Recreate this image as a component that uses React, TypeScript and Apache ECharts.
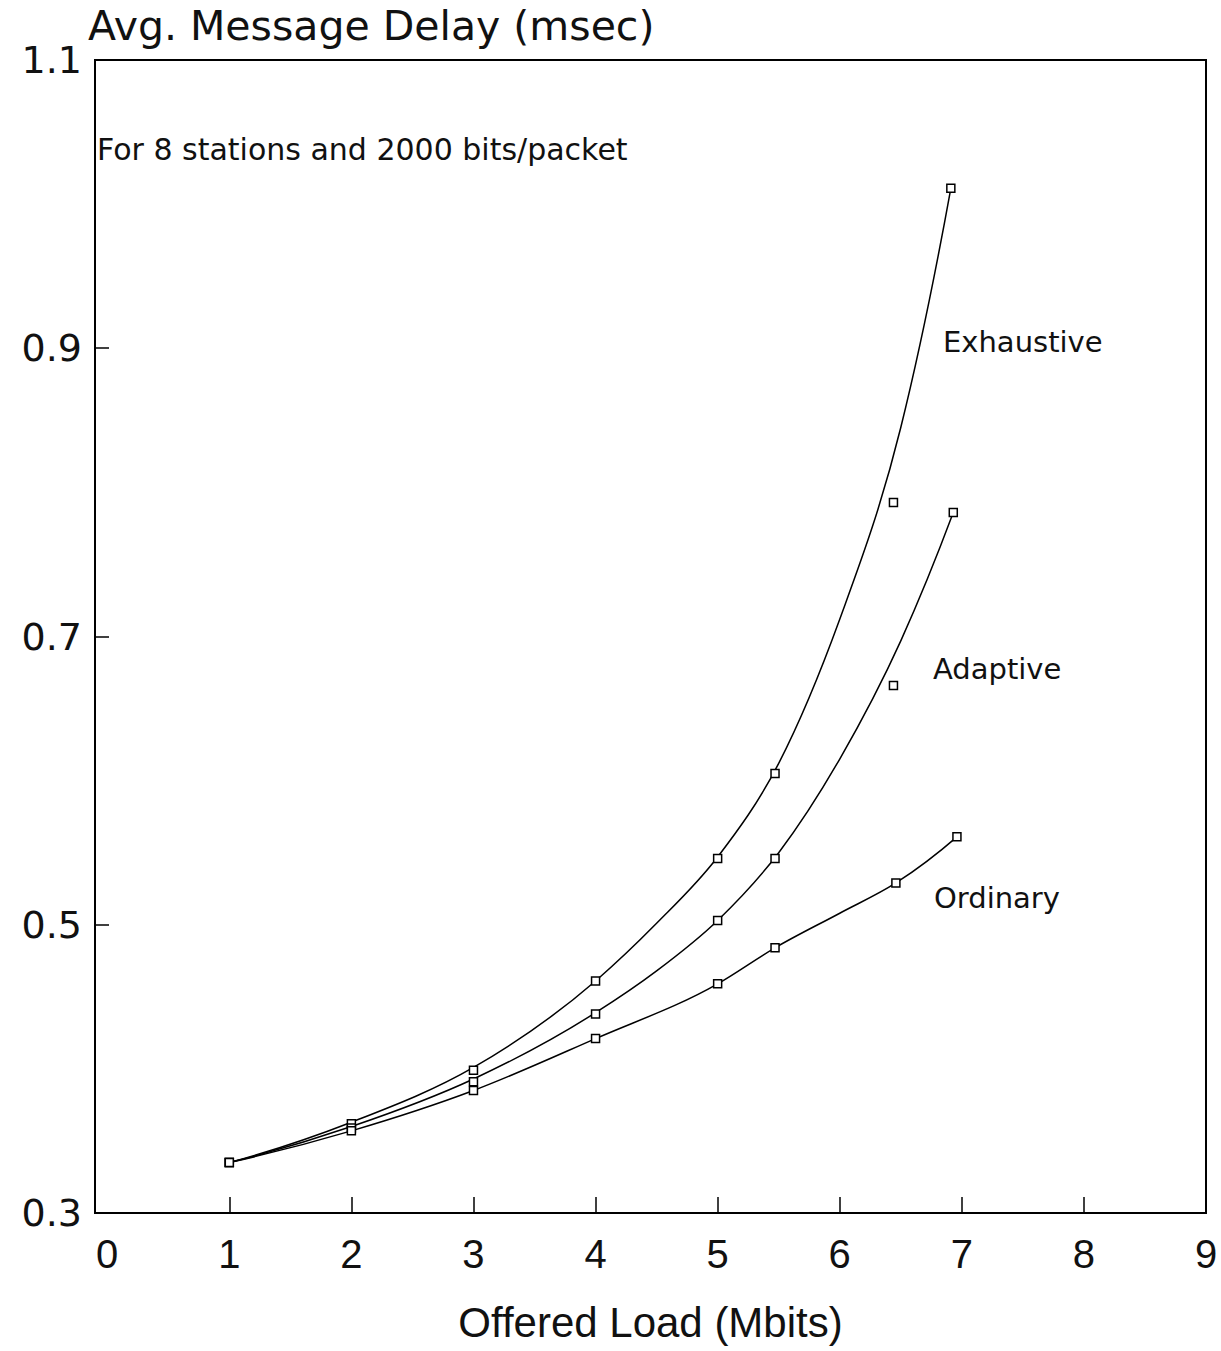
import React, { useEffect, useRef } from "react";
import * as echarts from "echarts";

// measured points (square markers)
const exhaustiveX = [1, 2, 3, 4, 5, 5.47, 6.44, 6.91];
const exhaustiveY = [0.335, 0.362, 0.399, 0.461, 0.546, 0.605, 0.793, 1.011];
const adaptiveX = [1, 2, 3, 4, 5, 5.47, 6.44, 6.93];
const adaptiveY = [0.335, 0.359, 0.391, 0.438, 0.503, 0.546, 0.666, 0.786];
const ordinaryX = [1, 2, 3, 4, 5, 5.47, 6.46, 6.96];
const ordinaryY = [0.335, 0.357, 0.385, 0.421, 0.459, 0.484, 0.529, 0.561];

// fitted curves
const exhaustiveCurveX = [1, 2, 3, 4, 4.5, 5, 5.5, 6, 6.5, 6.91];
const exhaustiveCurveY = [0.335, 0.363, 0.401, 0.461, 0.501, 0.547, 0.612, 0.712, 0.845, 1.011];
const adaptiveCurveX = [1, 2, 3, 4, 4.5, 5, 5.5, 6, 6.5, 6.93];
const adaptiveCurveY = [0.335, 0.36, 0.393, 0.439, 0.468, 0.503, 0.55, 0.615, 0.697, 0.786];
const ordinaryCurveX = [1, 2, 3, 4, 5, 5.47, 6, 6.46, 6.96];
const ordinaryCurveY = [0.335, 0.357, 0.385, 0.421, 0.459, 0.484, 0.508, 0.529, 0.561];

const yTicks = [0.3, 0.5, 0.7, 0.9, 1.1];
const xLabels = [0, 1, 2, 3, 4, 5, 6, 7, 8, 9];
const xTickMarks = [1, 2, 3, 4, 5, 6, 7, 8];

const seriesNames = ["Exhaustive", "Adaptive", "Ordinary"];
const yTitle = "Avg. Message Delay (msec)";
const xTitle = "Offered Load (Mbits)";
const note = "For 8 stations and 2000 bits/packet";

const pairs = (xs: number[], ys: number[]) => xs.map((x, i) => [x, ys[i]]);

// smooth cubic path through pixel points (Bessel tangents)
function smoothPath(pts: number[][]): string {
  const n = pts.length;
  if (n < 2) return "";
  const h: number[] = [];
  const d: number[] = [];
  for (let i = 0; i < n - 1; i++) {
    h.push(pts[i + 1][0] - pts[i][0]);
    d.push((pts[i + 1][1] - pts[i][1]) / h[i]);
  }
  const m: number[] = new Array(n);
  for (let i = 1; i < n - 1; i++) {
    m[i] = (d[i - 1] * h[i] + d[i] * h[i - 1]) / (h[i - 1] + h[i]);
  }
  if (n > 2) {
    m[0] = (d[0] * (2 * h[0] + h[1]) - d[1] * h[0]) / (h[0] + h[1]);
    const k = n - 2;
    m[n - 1] = (d[k] * (2 * h[k] + h[k - 1]) - d[k - 1] * h[k]) / (h[k] + h[k - 1]);
  } else {
    m[0] = d[0];
    m[1] = d[0];
  }
  let s = `M${pts[0][0]},${pts[0][1]}`;
  for (let i = 0; i < n - 1; i++) {
    const [x0, y0] = pts[i];
    const [x1, y1] = pts[i + 1];
    const t = h[i] / 3;
    s += ` C${x0 + t},${y0 + m[i] * t} ${x1 - t},${y1 - m[i + 1] * t} ${x1},${y1}`;
  }
  return s;
}

export default function App() {
  const ref = useRef<HTMLDivElement>(null);
  useEffect(() => {
    if (!ref.current) return;
    const chart = echarts.init(ref.current, null, { renderer: "svg" });
    const curveSeries = (name: string, data: number[][]) => ({
      name: name + " curve",
      type: "custom",
      coordinateSystem: "cartesian2d",
      data,
      encode: { x: 0, y: 1 },
      z: 2,
      renderItem: (params: any, api: any) => {
        if (params.dataIndex !== 0) return null;
        const pts = data.map((p) => api.coord(p));
        return {
          type: "path",
          shape: { pathData: smoothPath(pts) },
          style: { stroke: "#000", fill: null, lineWidth: 1.5 },
        };
      },
    });
    const markerSeries = (name: string, data: number[][]) => ({
      name,
      type: "scatter",
      data,
      z: 5,
      symbol: "rect",
      symbolSize: 8,
      itemStyle: { color: "#fff", borderColor: "#000", borderWidth: 1.5, opacity: 1 },
    });
    const sans = "DejaVu Sans, sans-serif";
    const narrow = "Liberation Sans Narrow, Liberation Sans, sans-serif";
    chart.setOption({
      animation: false,
      backgroundColor: "#fff",
      grid: {
        left: 95,
        right: 15,
        top: 60,
        bottom: 138,
        outerBoundsMode: "none",
        containLabel: false,
        show: true,
        borderColor: "#000",
        borderWidth: 2,
      },
      xAxis: {
        type: "value",
        min: -0.1,
        max: 9,
        name: xTitle,
        nameLocation: "middle",
        nameGap: 88,
        nameTextStyle: { fontSize: 42, color: "#111", fontFamily: narrow },
        splitLine: { show: false },
        axisLine: { onZero: false, lineStyle: { color: "#000", width: 2 } },
        axisTick: {
          inside: true,
          length: 16,
          customValues: xTickMarks,
          lineStyle: { color: "#000", width: 1.5 },
        },
        axisLabel: {
          margin: 21,
          fontSize: 40,
          color: "#111",
          fontFamily: narrow,
          customValues: xLabels,
          formatter: (v: number) => String(Math.round(v)),
        },
      },
      yAxis: {
        type: "value",
        min: 0.3,
        max: 1.1,
        interval: 0.2,
        splitLine: { show: false },
        axisLine: { onZero: false, lineStyle: { color: "#000", width: 2 } },
        axisTick: { inside: true, length: 14, lineStyle: { color: "#000", width: 1.5 } },
        axisLabel: {
          margin: 13,
          fontSize: 38,
          color: "#111",
          fontFamily: sans,
          formatter: (v: number) => {
            const t = yTicks.find((k) => Math.abs(k - v) < 1e-6);
            return t !== undefined ? t.toFixed(1) : "";
          },
        },
      },
      graphic: [
        {
          type: "text",
          left: 88,
          top: 5,
          style: { text: yTitle, fontSize: 41, fill: "#111", fontFamily: sans },
        },
        {
          type: "text",
          left: 97,
          top: 134,
          style: { text: note, fontSize: 30, fill: "#111", fontFamily: sans },
        },
        {
          type: "text",
          left: 943,
          top: 327,
          style: { text: seriesNames[0], fontSize: 29, fill: "#111", fontFamily: sans },
        },
        {
          type: "text",
          left: 933,
          top: 654,
          style: { text: seriesNames[1], fontSize: 29, fill: "#111", fontFamily: sans },
        },
        {
          type: "text",
          left: 934,
          top: 883,
          style: { text: seriesNames[2], fontSize: 29, fill: "#111", fontFamily: sans },
        },
      ],
      series: [
        curveSeries(seriesNames[0], pairs(exhaustiveCurveX, exhaustiveCurveY)),
        curveSeries(seriesNames[1], pairs(adaptiveCurveX, adaptiveCurveY)),
        curveSeries(seriesNames[2], pairs(ordinaryCurveX, ordinaryCurveY)),
        markerSeries(seriesNames[0], pairs(exhaustiveX, exhaustiveY)),
        markerSeries(seriesNames[1], pairs(adaptiveX, adaptiveY)),
        markerSeries(seriesNames[2], pairs(ordinaryX, ordinaryY)),
      ],
    });
    return () => chart.dispose();
  }, []);
  return (
    <div
      ref={ref}
      style={{ position: "absolute", left: 0, top: 0, width: 1221, height: 1351 }}
    />
  );
}
